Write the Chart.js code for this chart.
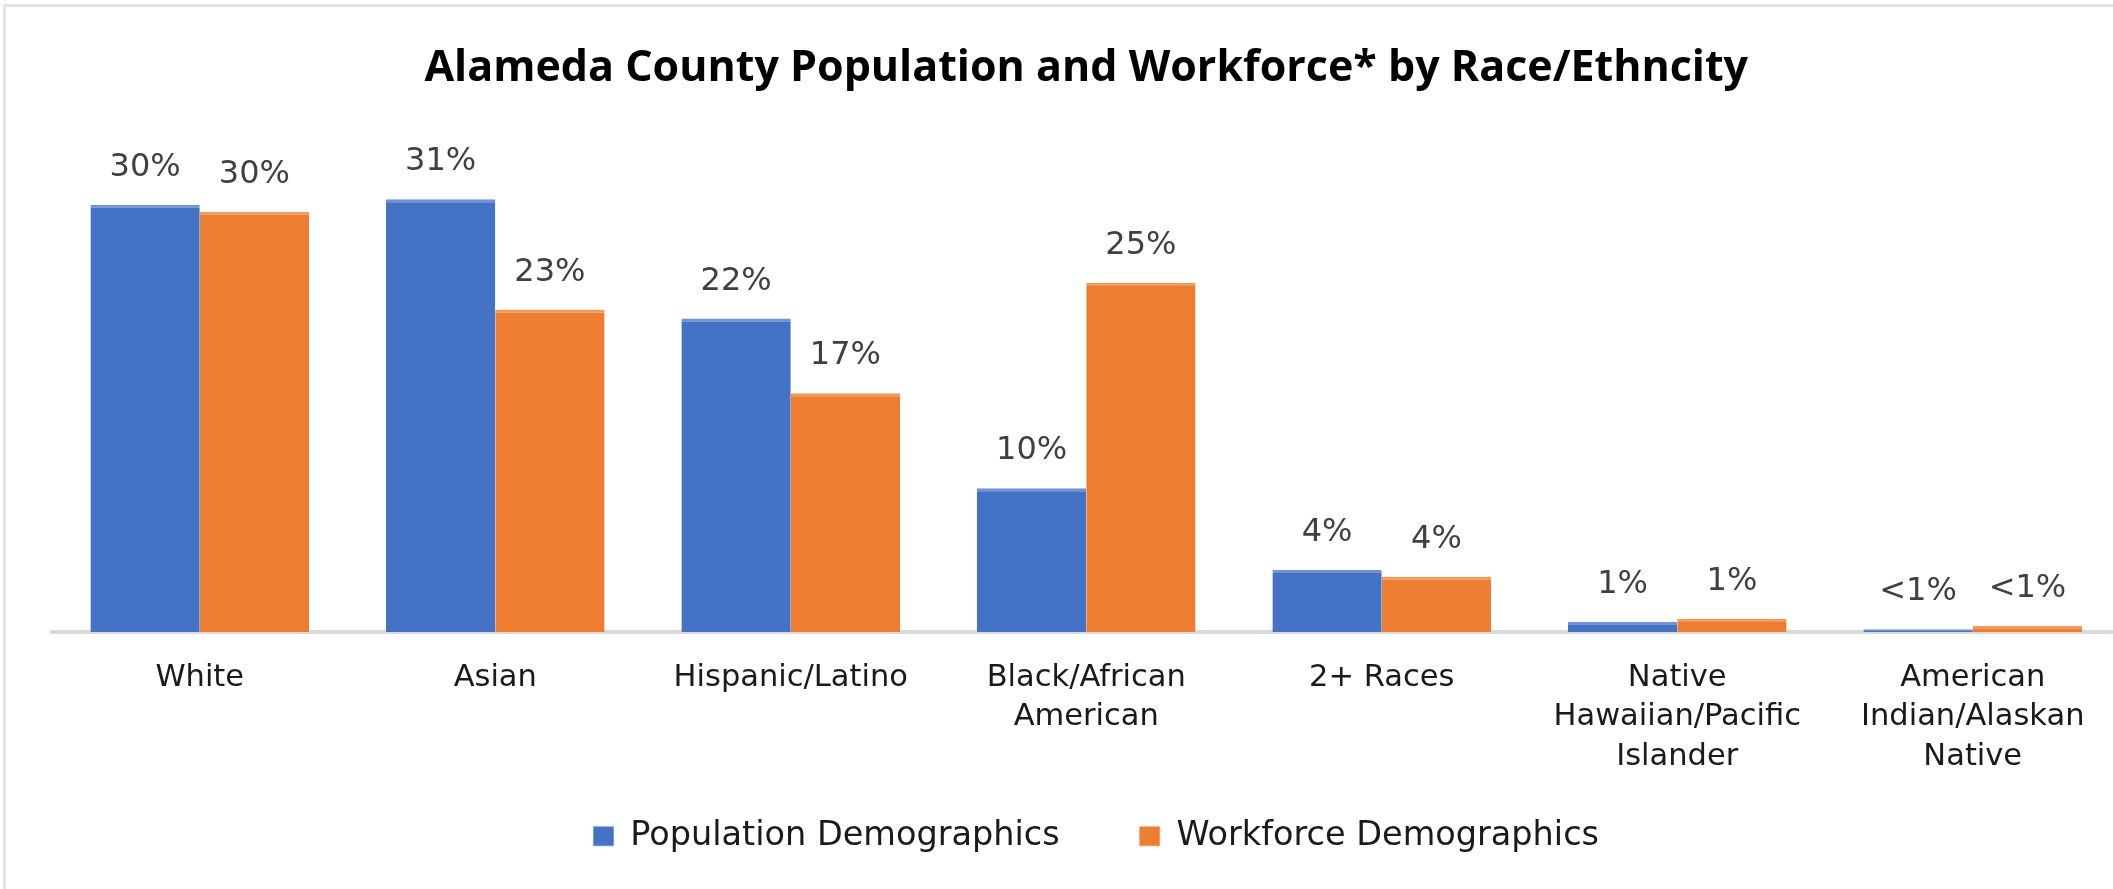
<!DOCTYPE html>
<html>
<head>
<meta charset="utf-8">
<title>Alameda County Population and Workforce by Race/Ethnicity</title>
<script src="https://cdn.jsdelivr.net/npm/chart.js@4.4.1/dist/chart.umd.min.js"></script>
<style>
  html, body { margin: 0; padding: 0; background: #fff; overflow: hidden; }
  #wrap { position: relative; width: 2113px; height: 889px; overflow: hidden; }
  #frame { position: absolute; left: 3px; top: 4px; right: -10px; bottom: -10px;
           border-left: 3px solid #e4e4e4; border-top: 3px solid #e4e4e4; pointer-events: none; }
  canvas { position: absolute; left: 0; top: 0; }
</style>
</head>
<body>
<div id="wrap">
  <canvas id="raceChart" width="2170" height="889"></canvas>
  <div id="frame"></div>
</div>
<script>
const categories = ['White', 'Asian', 'Hispanic/Latino', ['Black/African', 'American'], '2+ Races',
  ['Native', 'Hawaiian/Pacific', 'Islander'], ['American', 'Indian/Alaskan', 'Native']];
const populationValues = [30.6, 31.0, 22.45, 10.3, 4.45, 0.72, 0.2];
const workforceValues = [30.1, 23.1, 17.1, 25.0, 3.95, 0.93, 0.43];
const populationLabels = ['30%', '31%', '22%', '10%', '4%', '1%', '<1%'];
const workforceLabels = ['30%', '23%', '17%', '25%', '4%', '1%', '<1%'];
const seriesNames = ['Population Demographics', 'Workforce Demographics'];

const labelFont = '"DejaVu Sans", sans-serif';

// value labels above each bar (no datalabels plugin available offline)
const barValueLabels = {
    id: 'barValueLabels',
    afterDatasetsDraw(chart) {
        const ctx = chart.ctx;
        const texts = [populationLabels, workforceLabels];
        ctx.save();
        ctx.font = '32px ' + labelFont;
        ctx.fillStyle = '#404040';
        ctx.textAlign = 'center';
        ctx.textBaseline = 'alphabetic';
        chart.data.datasets.forEach((ds, i) => {
            chart.getDatasetMeta(i).data.forEach((bar, j) => {
                ctx.fillText(texts[i][j], bar.x, bar.y - 29);
            });
        });
        ctx.restore();
    }
};

// the x scale is made shorter than its labels so the legend can sit close;
// open its clip box back up so the third label line is still drawn.
// legend sits a little right of centre in the original
const layoutTweaks = {
    id: 'layoutTweaks',
    afterLayout(chart) {
        chart.scales.x.bottom = chart.height;
        chart.legend.left += 20;
    }
};

let ctx = document.getElementById('raceChart').getContext('2d');
let chart = new Chart(ctx, {
    type: 'bar',
    data: {
        labels: categories,
        datasets: [{
            label: seriesNames[0],
            data: populationValues,
            backgroundColor: '#4472C4',
            borderColor: '#7293d3',
            borderWidth: {top: 3, left: 0, right: 0, bottom: 0}
        }, {
            label: seriesNames[1],
            data: workforceValues,
            backgroundColor: '#ED7D31',
            borderColor: '#f1995e',
            borderWidth: {top: 3, left: 0, right: 0, bottom: 0}
        }]
    },
    options: {
        responsive: false,
        devicePixelRatio: 1,
        animation: false,
        categoryPercentage: 0.74,
        barPercentage: 1,
        layout: {
            padding: {left: 52, right: 49.5, top: 0, bottom: 26}
        },
        plugins: {
            title: {
                display: true,
                text: 'Alameda County Population and Workforce* by Race/Ethncity',
                color: '#000',
                font: {family: '"Open Sans", sans-serif', size: 43, weight: 'bold', lineHeight: 1.2},
                padding: {top: 42.6, bottom: 49.2}
            },
            legend: {
                position: 'bottom',
                labels: {
                    boxWidth: 20,
                    boxHeight: 19,
                    padding: 80,
                    color: '#1a1a1a',
                    font: {family: labelFont, size: 33.5}
                }
            },
            tooltip: {enabled: false}
        },
        scales: {
            x: {
                grid: {display: false, drawTicks: false},
                border: {color: '#d9d9d9', width: 4},
                ticks: {
                    color: '#1a1a1a',
                    padding: 26,
                    autoSkip: false,
                    maxRotation: 0,
                    font: {family: labelFont, size: 30.5, lineHeight: 1.295}
                },
                afterFit(scale) {
                    scale.height = 107.5;
                }
            },
            y: {display: false, min: 0, max: 35}
        }
    },
    plugins: [barValueLabels, layoutTweaks]
});
</script>
</body>
</html>
